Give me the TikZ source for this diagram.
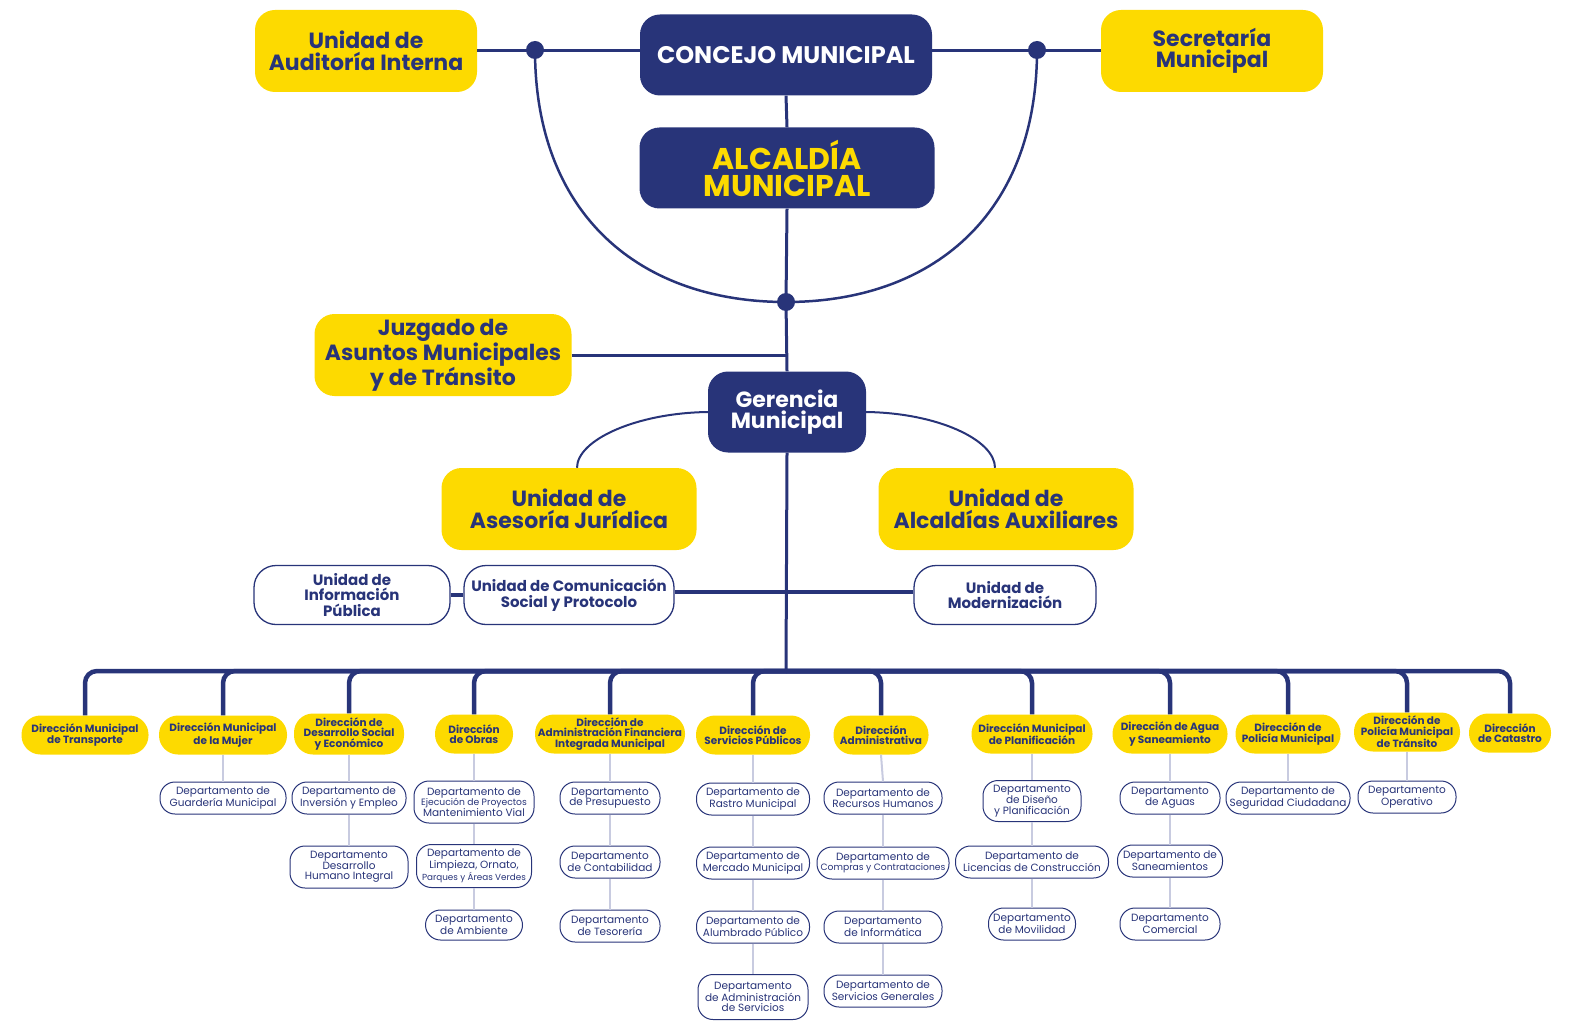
\documentclass[tikz,border=0pt]{standalone}
\usepackage{fontspec}
\setmainfont{Poppins}
\definecolor{navy}{RGB}{40,52,121}
\definecolor{gold}{RGB}{253,218,0}
\definecolor{paleline}{RGB}{200,203,224}
\newcommand\tightline{\fontsize{9.2}{10.5}\selectfont}
\tikzset{
  navybox/.style={fill=navy, text=white, rounded corners=20pt, align=center, inner sep=0pt, font=\bfseries\fontsize{22}{21.5}\selectfont},
  topbox/.style={fill=gold, text=navy, rounded corners=20pt, align=center, inner sep=0pt, minimum height=82pt, font=\bfseries\fontsize{22}{21.5}\selectfont},
  unitbox/.style={draw=navy, line width=1.3pt, fill=white, text=navy, rounded corners=22pt, align=center, inner sep=0pt, minimum height=59pt, font=\bfseries\fontsize{15}{15.5}\selectfont},
  dirbox/.style={fill=gold, text=navy, rounded corners=19pt, align=center, inner sep=0pt, minimum height=39pt, font=\bfseries\fontsize{10.5}{10.2}\selectfont},
  deptbox/.style={draw=navy, line width=1pt, fill=white, text=navy, rounded corners=15pt, align=center, inner sep=0pt, minimum height=32pt, font=\fontsize{10.5}{10.5}\selectfont},
  mainline/.style={draw=navy, line width=3pt},
  busline/.style={draw=navy, line width=4.5pt, rounded corners=12pt},
  deptline/.style={draw=paleline, line width=2pt},
}
\begin{document}
\begin{tikzpicture}[x=1pt, y=-1pt]
\useasboundingbox (0,0) rectangle (1581,1024);
% upper levels
\node[navybox, minimum width=292pt, minimum height=81pt, font=\bfseries\fontsize{24}{24}\selectfont] (concejo) at (786,55) {CONCEJO MUNICIPAL};
\node[navybox, text=gold, minimum width=295pt, minimum height=81pt, font=\bfseries\fontsize{30}{27}\selectfont] (alcaldia) at (787,168) {ALCALDÍA\\MUNICIPAL};
\node[topbox, minimum width=222pt] (auditoria) at (366,51) {Unidad de\\Auditoría Interna};
\node[topbox, minimum width=222pt] (secretaria) at (1212,51) {Secretaría\\Municipal};
\node[topbox, minimum width=257pt] (juzgado) at (443,355) {Juzgado de\\Asuntos Municipales\\y de Tránsito};
\node[navybox, minimum width=158pt, minimum height=81pt] (gerencia) at (787,412) {Gerencia\\Municipal};
\node[topbox, minimum width=255pt] (asesoria) at (569,509) {Unidad de\\Asesoría Jurídica};
\node[topbox, minimum width=255pt] (auxiliares) at (1006,509) {Unidad de\\Alcaldías Auxiliares};
\node[unitbox, minimum width=196pt] (informacion) at (352,595) {Unidad de\\Información\\Pública};
\node[unitbox, minimum width=210pt] (comunicacion) at (569,595) {Unidad de Comunicación\\Social y Protocolo};
\node[unitbox, minimum width=182pt] (modernizacion) at (1005,595) {Unidad de\\Modernización};

\coordinate (dotL) at (535,50);
\coordinate (dotR) at (1037,50);
\coordinate (dotB) at (786,302);
\coordinate (bus) at (786,671);

\draw[mainline] (auditoria.east) -- (auditoria.east -| concejo.west);
\draw[mainline] (secretaria.west) -- (secretaria.west -| concejo.east);
\draw[navy, line width=2.5pt] (dotL) .. controls (535,215) and (640,302) .. (dotB) .. controls (932,302) and (1037,215) .. (dotR);
\draw[mainline] (concejo.south) -- (alcaldia.north);
\draw[mainline] (alcaldia.south) -- (dotB) -- (gerencia.north);
\draw[mainline] (juzgado.east) -- (juzgado.east -| gerencia.north);
\draw[navy, line width=2pt] (gerencia.west) .. controls (636,413) and (577,440) .. ([xshift=8pt]asesoria.north);
\draw[navy, line width=2pt] (gerencia.east) .. controls (938,413) and (995,440) .. ([xshift=-11pt]auxiliares.north);
\draw[mainline] (gerencia.south) -- (bus);
\draw[navy, line width=3.5pt] ([yshift=3pt]comunicacion.east) -- ([yshift=3pt]modernizacion.west);
\draw[navy, line width=3.5pt] (informacion.east) -- (comunicacion.west);
\foreach \d in {0,1,2}
  \fill[navy] (\ifcase\d dotL\or dotR\or dotB\fi) circle (9pt);

% direcciones
\node[dirbox, minimum width=127pt] (transporte) at (85,735) {Dirección Municipal\\de Transporte};
\node[dirbox, minimum width=128pt] (mujer) at (223,735) {Dirección Municipal\\de la Mujer};
\node[dirbox, minimum width=110pt, minimum height=41pt] (social) at (349,734) {Dirección de\\Desarrollo Social\\y Económico};
\node[dirbox, minimum width=78pt] (obras) at (474,734) {Dirección\\de Obras};
\node[dirbox, minimum width=150pt] (financiera) at (610,734) {Dirección de\\Administración Financiera\\Integrada Municipal};
\node[dirbox, minimum width=114pt] (servicios) at (753,735) {Dirección de\\Servicios Públicos};
\node[dirbox, minimum width=95pt] (administrativa) at (881,735) {Dirección\\Administrativa};
\node[dirbox, minimum width=121pt] (planificacion) at (1032,734) {Dirección Municipal\\de Planificación};
\node[dirbox, minimum width=115pt] (agua) at (1170,734) {Dirección de Agua\\y Saneamiento};
\node[dirbox, minimum width=105pt] (policia) at (1288,734) {Dirección de\\Policía Municipal};
\node[dirbox, minimum width=106pt] (transito) at (1407,732) {Dirección de\\Policía Municipal\\de Tránsito};
\node[dirbox, minimum width=82pt] (catastro) at (1510,733) {Dirección\\de Catastro};

\foreach \n in {transporte,mujer,social,obras,financiera,servicios,administrativa,planificacion,agua,policia,transito,catastro}
  \draw[busline] (bus) -| (\n.north);

% departamentos
\node[deptbox, minimum width=126pt] (guarderia) at (223,798) {Departamento de\\Guardería Municipal};
\node[deptbox, minimum width=114pt] (inversion) at (349,798) {Departamento de\\Inversión y Empleo};
\node[deptbox, minimum width=118pt, minimum height=42pt] (humano) at (349,867) {Departamento\\Desarrollo\\Humano Integral};
\node[deptbox, minimum width=120pt, minimum height=42pt] (ejecucion) at (474,802) {Departamento de\\{\tightline Ejecución de Proyectos}\\Mantenimiento Vial};
\node[deptbox, minimum width=115pt, minimum height=43pt] (limpieza) at (474,866) {Departamento de\\Limpieza, Ornato,\\{\fontsize{8.8}{10.5}\selectfont Parques y Áreas Verdes}};
\node[deptbox, minimum width=97pt, minimum height=30pt] (ambiente) at (474,925) {Departamento\\de Ambiente};
\node[deptbox, minimum width=100pt] (presupuesto) at (610,798) {Departamento\\de Presupuesto};
\node[deptbox, minimum width=100pt] (contabilidad) at (610,862) {Departamento\\de Contabilidad};
\node[deptbox, minimum width=100pt] (tesoreria) at (610,926) {Departamento\\de Tesorería};
\node[deptbox, minimum width=113pt] (rastro) at (753,799) {Departamento de\\Rastro Municipal};
\node[deptbox, minimum width=113pt] (mercado) at (753,863) {Departamento de\\Mercado Municipal};
\node[deptbox, minimum width=113pt] (alumbrado) at (753,927) {Departamento de\\Alumbrado Público};
\node[deptbox, minimum width=110pt, minimum height=45pt] (admservicios) at (753,997) {Departamento\\de Administración\\de Servicios};
\node[deptbox, minimum width=118pt] (rrhh) at (883,798) {Departamento de\\Recursos Humanos};
\node[deptbox, minimum width=132pt] (compras) at (883,863) {Departamento de\\{\tightline Compras y Contrataciones}};
\node[deptbox, minimum width=118pt] (informatica) at (883,927) {Departamento\\de Informática};
\node[deptbox, minimum width=118pt] (generales) at (883,991) {Departamento de\\Servicios Generales};
\node[deptbox, minimum width=98pt, minimum height=41pt] (diseno) at (1032,801) {Departamento\\de Diseño\\y Planificación};
\node[deptbox, minimum width=153pt] (licencias) at (1032,862) {Departamento de\\Licencias de Construcción};
\node[deptbox, minimum width=87pt] (movilidad) at (1032,924) {Departamento\\de Movilidad};
\node[deptbox, minimum width=100pt] (aguas) at (1170,798) {Departamento\\de Aguas};
\node[deptbox, minimum width=105pt] (saneamientos) at (1170,861) {Departamento de\\Saneamientos};
\node[deptbox, minimum width=100pt] (comercial) at (1170,924) {Departamento\\Comercial};
\node[deptbox, minimum width=124pt] (seguridad) at (1288,798) {Departamento de\\Seguridad Ciudadana};
\node[deptbox, minimum width=98pt] (operativo) at (1407,797) {Departamento\\Operativo};

\foreach \a/\b in {mujer/guarderia, social/inversion, inversion/humano, obras/ejecucion, ejecucion/limpieza, limpieza/ambiente,
    financiera/presupuesto, presupuesto/contabilidad, contabilidad/tesoreria, servicios/rastro, rastro/mercado, mercado/alumbrado,
    alumbrado/admservicios, administrativa/rrhh, rrhh/compras, compras/informatica, informatica/generales, planificacion/diseno,
    diseno/licencias, licencias/movilidad, agua/aguas, aguas/saneamientos, saneamientos/comercial, policia/seguridad, transito/operativo}
  \draw[deptline] (\a.south) -- (\b.north);
\end{tikzpicture}
\end{document}
